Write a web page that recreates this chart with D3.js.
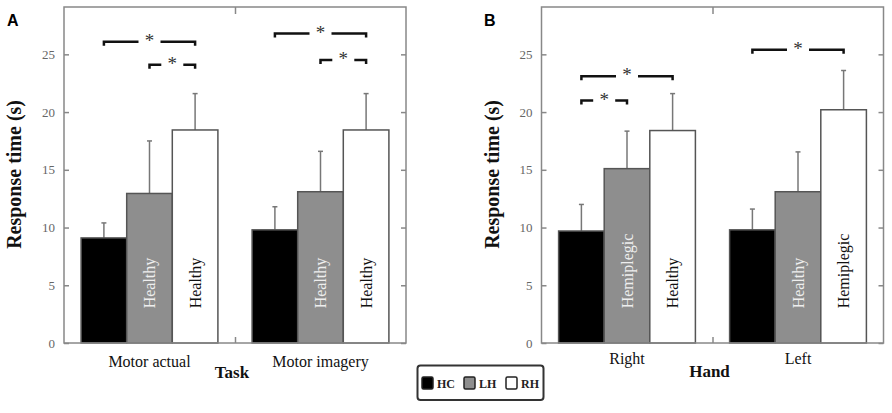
<!DOCTYPE html>
<meta charset="utf-8">
<html>
<head>
    <script src="https://d3js.org/d3.v7.min.js"></script>
    <style>
        body { margin: 0; background: #fff; }
        text { font-family: "Liberation Serif", "Times New Roman", serif; }
    </style>
</head>
<body>
<script>

    // --- data ---
    var series = ["HC", "LH", "RH"];
    var seriesFill = ["#000000", "#8e8e8e", "#ffffff"];

    // Panel A: by task
    var taskGroups = ["Motor actual", "Motor imagery"];
    var taskHC = [9.1, 9.8];
    var taskLH = [12.95, 13.1];
    var taskRH = [18.45, 18.45];
    var taskHCsd = [1.3, 2.0];
    var taskLHsd = [4.55, 3.5];
    var taskRHsd = [3.15, 3.15];
    var taskLHlabel = ["Healthy", "Healthy"];
    var taskRHlabel = ["Healthy", "Healthy"];
    // [group, from bar, to bar, height]
    var taskSig = [[0, 0, 2, 26.1], [0, 1, 2, 24.1], [1, 0, 2, 26.8], [1, 1, 2, 24.5]];

    // Panel B: by hand
    var handGroups = ["Right", "Left"];
    var handHC = [9.7, 9.8];
    var handLH = [15.1, 13.1];
    var handRH = [18.4, 20.2];
    var handHCsd = [2.3, 1.8];
    var handLHsd = [3.25, 3.45];
    var handRHsd = [3.2, 3.4];
    var handLHlabel = ["Hemiplegic", "Healthy"];
    var handRHlabel = ["Healthy", "Hemiplegic"];
    var handSig = [[0, 0, 2, 23.1], [0, 0, 1, 21.0], [1, 0, 2, 25.4]];

    var yTicks = [0, 5, 10, 15, 20, 25];

    var largura = 892, altura = 413;

    var svg = d3.select("body").append("svg")
        .attr("width", largura)
        .attr("height", altura);

    svg.append("rect").attr("width", largura).attr("height", altura).attr("fill", "#fff");

    var y = d3.scaleLinear().domain([0, 29.1]).range([343, 7]);

    function desenharPainel(opts) {
        var x = d3.scaleLinear().domain([0.5, 2.5]).range([opts.left, opts.right]);
        var barW = x(0.8 / 3) - x(0);
        var g = svg.append("g");

        // bars data
        var means = [opts.hc, opts.lh, opts.rh];
        var sds = [opts.hcsd, opts.lhsd, opts.rhsd];
        var labels = [null, opts.lhLabel, opts.rhLabel];
        var bars = [];
        opts.groups.forEach(function (grp, gi) {
            series.forEach(function (s, si) {
                bars.push({ gi: gi, si: si, v: means[si][gi], sd: sds[si][gi], label: labels[si] ? labels[si][gi] : null });
            });
        });
        function barX(gi, si) { return x(gi + 1 - 0.4) + si * barW; }
        function barC(gi, si) { return barX(gi, si) + barW / 2; }

        // middle tick on top & bottom (drawn under bars)
        g.append("g")
            .attr("transform", "translate(0," + y(0) + ")")
            .call(d3.axisBottom(x).tickValues([1, 1.5, 2]).tickSize(-6).tickFormat(""))
            .call(function (a) { a.select(".domain").remove(); a.selectAll("line").attr("stroke", "#888").attr("stroke-width", 1.5); });
        g.append("g")
            .attr("transform", "translate(0," + y.range()[1] + ")")
            .call(d3.axisTop(x).tickValues([1.5]).tickSize(-7).tickFormat(""))
            .call(function (a) { a.select(".domain").remove(); a.selectAll("line").attr("stroke", "#888").attr("stroke-width", 1.5); });

        // error bars
        var eb = g.selectAll(".err").data(bars).enter().append("g").attr("class", "err");
        eb.append("line")
            .attr("x1", function (d) { return barC(d.gi, d.si); })
            .attr("x2", function (d) { return barC(d.gi, d.si); })
            .attr("y1", function (d) { return y(d.v); })
            .attr("y2", function (d) { return y(d.v + d.sd); })
            .attr("stroke", "#777").attr("stroke-width", 1.5);
        eb.append("line")
            .attr("x1", function (d) { return barC(d.gi, d.si) - 2.5; })
            .attr("x2", function (d) { return barC(d.gi, d.si) + 2.5; })
            .attr("y1", function (d) { return y(d.v + d.sd); })
            .attr("y2", function (d) { return y(d.v + d.sd); })
            .attr("stroke", "#777").attr("stroke-width", 1.5);

        // bars
        g.selectAll(".bar").data(bars).enter().append("rect")
            .attr("class", "bar")
            .attr("x", function (d) { return barX(d.gi, d.si); })
            .attr("width", barW)
            .attr("y", function (d) { return y(d.v); })
            .attr("height", function (d) { return y(0) - y(d.v); })
            .attr("fill", function (d) { return seriesFill[d.si]; })
            .attr("stroke", "#555")
            .attr("stroke-width", 1.5);

        // rotated labels inside bars
        g.selectAll(".barlabel").data(bars.filter(function (d) { return d.label; })).enter().append("text")
            .attr("transform", function (d) { return "translate(" + (barC(d.gi, d.si) + 5.5) + "," + y(3) + ") rotate(-90)"; })
            .style("font-size", "16px")
            .attr("fill", function (d) { return d.si === 1 ? "#eeeeee" : "#111"; })
            .text(function (d) { return d.label; });

        // frame
        g.append("rect")
            .attr("x", opts.left).attr("y", y.range()[1])
            .attr("width", opts.right - opts.left).attr("height", y(0) - y.range()[1])
            .attr("fill", "none").attr("stroke", "#888").attr("stroke-width", 1.5);

        // y axes (inward ticks both sides)
        g.append("g")
            .attr("transform", "translate(" + opts.left + ",0)")
            .call(d3.axisLeft(y).tickValues(yTicks).tickSize(-5).tickPadding(9))
            .call(function (a) {
                a.select(".domain").remove();
                a.selectAll("line").attr("stroke", "#888").attr("stroke-width", 1.5);
                a.selectAll("text").attr("fill", "#666").style("font-size", "13px")
                    .style("font-family", "Liberation Serif, serif");
            });
        g.append("g")
            .attr("transform", "translate(" + opts.right + ",0)")
            .call(d3.axisRight(y).tickValues(yTicks).tickSize(-5).tickFormat(""))
            .call(function (a) {
                a.select(".domain").remove();
                a.selectAll("line").attr("stroke", "#888").attr("stroke-width", 1.5);
            });

        // significance brackets
        opts.sig.forEach(function (b) {
            var x1 = barC(b[0], b[1]), x2 = barC(b[0], b[2]);
            var yy = y(b[3]);
            var xm = (x1 + x2) / 2;
            var gap = 11;
            g.append("path")
                .attr("d", "M" + x1 + "," + (yy + 4) + "V" + yy + "H" + (xm - gap))
                .attr("fill", "none").attr("stroke", "#111").attr("stroke-width", 2.5);
            g.append("path")
                .attr("d", "M" + (xm + gap) + "," + yy + "H" + x2 + "V" + (yy + 4))
                .attr("fill", "none").attr("stroke", "#111").attr("stroke-width", 2.5);
            g.append("text")
                .attr("x", xm).attr("y", yy + 5)
                .attr("text-anchor", "middle")
                .style("font-size", "19px")
                .attr("fill", "#333")
                .text("*");
        });

        // category labels
        g.selectAll(".cat").data(opts.groups).enter().append("text")
            .attr("x", function (d, i) { return x(i + 1); })
            .attr("y", opts.catY)
            .attr("text-anchor", "middle")
            .style("font-size", "16px")
            .attr("fill", "#111")
            .text(function (d) { return d; });

        // x title
        g.append("text")
            .attr("x", x(1.5) - 3).attr("y", opts.titleY)
            .attr("text-anchor", "middle")
            .style("font-size", "17px").style("font-weight", "bold")
            .attr("fill", "#111")
            .text(opts.xTitle);

        // y title
        g.append("text")
            .attr("transform", "translate(" + (opts.left - 43) + "," + y(14.6) + ") rotate(-90)")
            .attr("text-anchor", "middle")
            .style("font-size", "20px").style("font-weight", "bold")
            .attr("fill", "#111")
            .text("Response time (s)");

        // panel letter
        svg.append("text")
            .attr("x", opts.letterX).attr("y", 26)
            .style("font-family", "Liberation Sans, Arial, sans-serif")
            .style("font-size", "16px").style("font-weight", "bold")
            .text(opts.letter);
    }

    desenharPainel({
        left: 64, right: 406, groups: taskGroups,
        hc: taskHC, lh: taskLH, rh: taskRH,
        hcsd: taskHCsd, lhsd: taskLHsd, rhsd: taskRHsd,
        lhLabel: taskLHlabel, rhLabel: taskRHlabel,
        sig: taskSig, xTitle: "Task", catY: 367, titleY: 378,
        letter: "A", letterX: 7
    });

    desenharPainel({
        left: 541.5, right: 883.5, groups: handGroups,
        hc: handHC, lh: handLH, rh: handRH,
        hcsd: handHCsd, lhsd: handLHsd, rhsd: handRHsd,
        lhLabel: handLHlabel, rhLabel: handRHlabel,
        sig: handSig, xTitle: "Hand", catY: 364, titleY: 377,
        letter: "B", letterX: 484
    });

    // legend
    var legenda = svg.append("g").attr("transform", "translate(417.5,365.5)");
    legenda.append("rect")
        .attr("width", 126).attr("height", 34.5).attr("rx", 3)
        .attr("fill", "#fff").attr("stroke", "#333").attr("stroke-width", 2);
    var itens = legenda.selectAll(".item").data(series).enter().append("g")
        .attr("transform", function (d, i) { return "translate(" + (4.5 + i * 42) + ",11.5)"; });
    itens.append("rect")
        .attr("width", 11).attr("height", 12).attr("rx", 1.5)
        .attr("fill", function (d, i) { return seriesFill[i]; })
        .attr("stroke", "#222").attr("stroke-width", 1.5);
    itens.append("text")
        .attr("x", 15).attr("y", 10.5)
        .style("font-size", "12px").style("font-weight", "bold")
        .attr("fill", "#222")
        .text(function (d) { return d; });

</script>
</body>
</html>
